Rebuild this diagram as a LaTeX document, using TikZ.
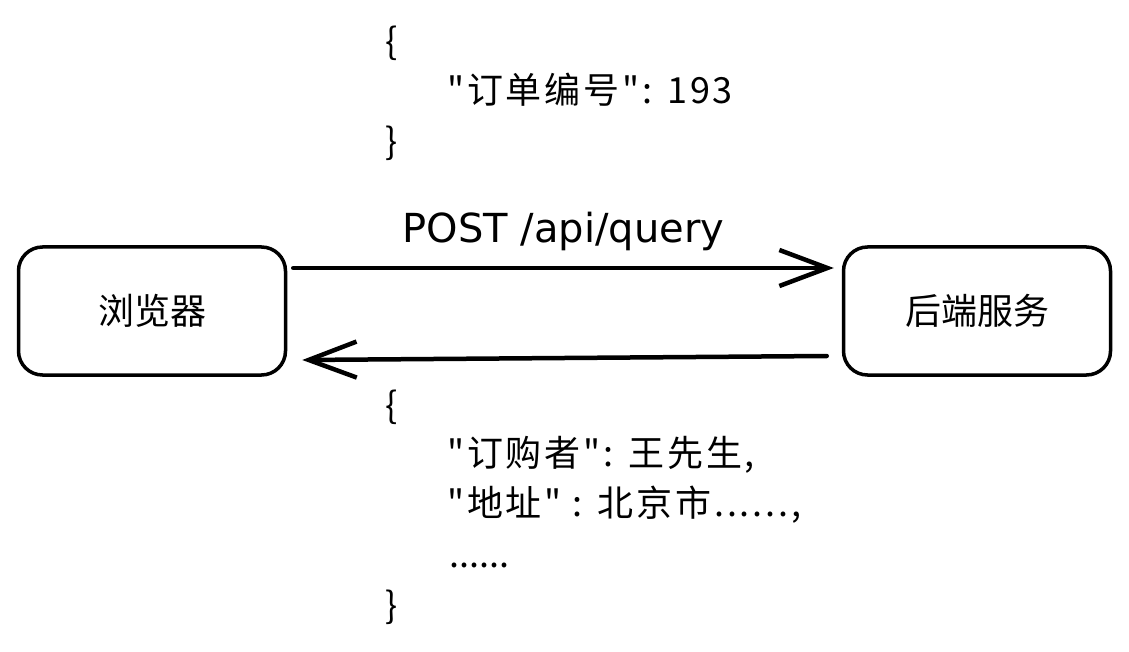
\documentclass[tikz,border=0pt]{standalone}
\usepackage{fontspec}
\setmainfont{Noto Sans CJK SC}[Ligatures=TeXOff]
\newfontfamily\latinfont{DejaVu Sans}
\newfontfamily\codefont{Noto Sans CJK SC}[Ligatures=TeXOff, LetterSpace=8]
\usetikzlibrary{arrows.meta}

\tikzset{
  box/.style={draw, line width=3.5pt, rounded corners=24pt, minimum width=267pt,
    minimum height=128pt, font=\fontsize{36}{40}\selectfont},
  flow/.style={line width=4.5pt, line cap=round,
    -{Straight Barb[length=48pt, width=36pt, line width=4.5pt]}},
  code/.style={anchor=base west, inner sep=0pt, font=\codefont\fontsize{36}{40}\selectfont}
}

\begin{document}
\begin{tikzpicture}[x=1pt, y=-1pt]
    % canvas of the reference
    \useasboundingbox (0,0) rectangle (1129,652);

    % the two ends of the exchange
    \node[box] (browser) at (152,311) {浏览器};
    \node[box] (backend) at (977,311) {后端服务};

    % request body
    \node[code] (reqopen) at (385,55) {\{};
    \node[code] (reqline) at (447,104) {"订单编号": 193};
    \node[code] (reqclose) at (385,155) {\}};

    % request and response
    \draw[flow] ([xshift=6pt,yshift=43pt]browser.east) -- ([xshift=-8pt,yshift=43pt]backend.west)
        node[midway, above=12pt, font=\latinfont\fontsize{40}{44}\selectfont] (req) {POST /api/query};
    \draw[flow] ([xshift=-15pt,yshift=-45pt]backend.west) -- ([xshift=15pt,yshift=-49pt]browser.east);

    % response body
    \node[code] (resopen) at (385,418) {\{};
    \node[code] (resbuyer) at (447,466) {"订购者": 王先生,};
    \node[code] (resaddr) at (447,516) {"地址" : 北京市......,};
    \node[code, font=\fontsize{36}{40}\selectfont] (resmore) at (449,567) {......};
    \node[code] (resclose) at (385,618) {\}};
\end{tikzpicture}
\end{document}
